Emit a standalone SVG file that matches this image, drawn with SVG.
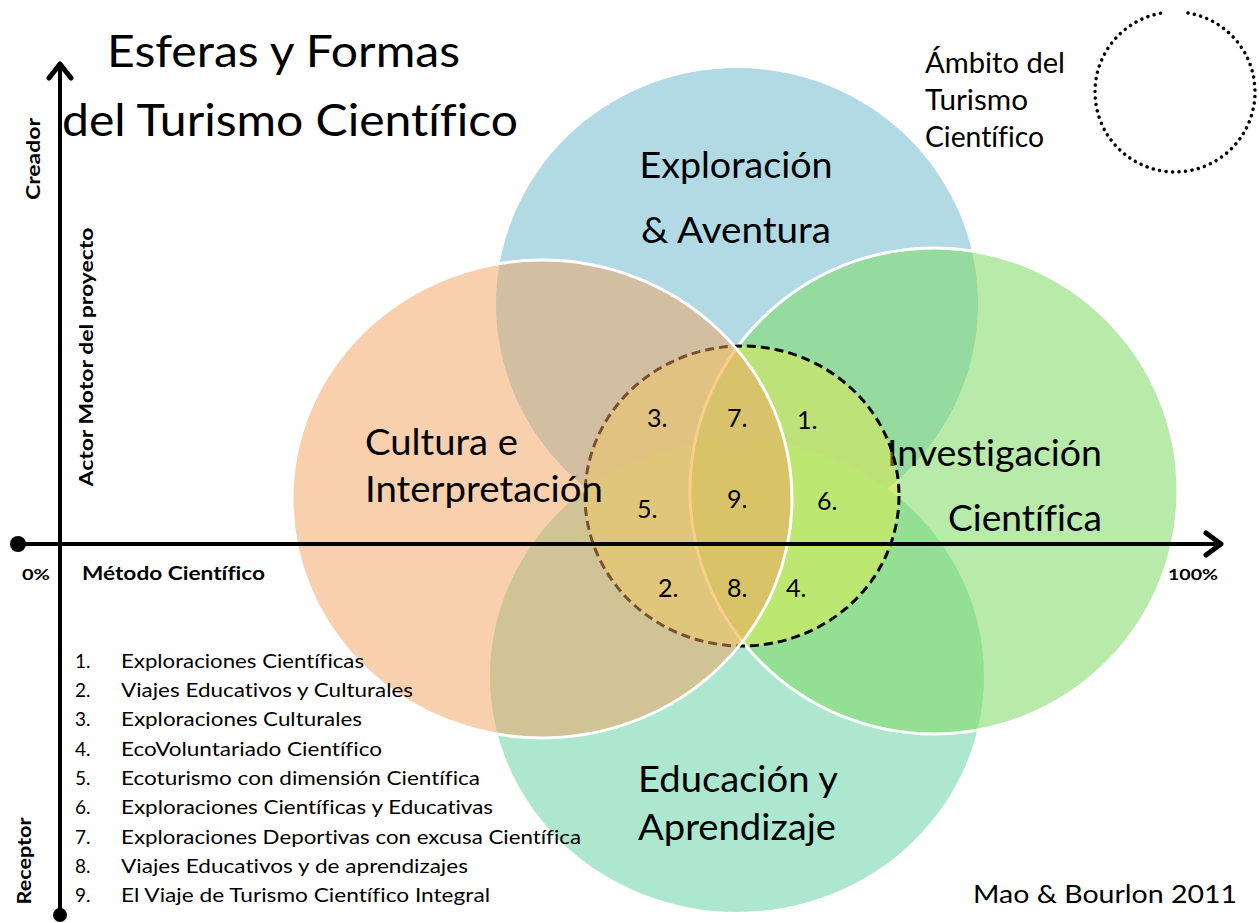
<svg xmlns="http://www.w3.org/2000/svg" width="1259" height="923" viewBox="0 0 1259 923">
<style>
text { font-family: Lato, "Open Sans", "Liberation Sans", sans-serif; fill: #000; font-variant-ligatures: none; }
.title { font-size: 44px; }
.lbl { font-size: 36px; }
.amb { font-size: 28px; }
.num { font-size: 25px; }
.leg { font-size: 19px; }
.b { font-weight: 700; }
.axis { stroke: #000; stroke-width: 4; fill: none; }
.head { stroke: #000; stroke-width: 5; fill: none; stroke-linecap: round; stroke-linejoin: round; }
.sph { stroke: #fff; stroke-width: 3; }
</style>
<rect width="1259" height="923" fill="#fff"/>

<g id="title">
  <text class="title" x="107" y="67" textLength="353" lengthAdjust="spacingAndGlyphs">Esferas y Formas</text>
  <text class="title" x="62" y="136" textLength="456" lengthAdjust="spacingAndGlyphs">del Turismo Científico</text>
</g>

<g id="legend-ambito">
  <text class="amb" x="925" y="73" textLength="140" lengthAdjust="spacingAndGlyphs">Ámbito del</text>
  <text class="amb" x="925" y="110" textLength="103" lengthAdjust="spacingAndGlyphs">Turismo</text>
  <text class="amb" x="925" y="147" textLength="119" lengthAdjust="spacingAndGlyphs">Científico</text>
  <path d="M 1188 13 A 80 80 0 1 1 1162 13" fill="none" stroke="#000" stroke-width="3.5" stroke-linecap="round" stroke-dasharray="0.1 6.4"/>
</g>

<g id="sphere-exploracion">
  <ellipse cx="737" cy="304" rx="241" ry="236" fill="#B1DAE5"/>
  <text class="lbl" x="736" y="178" text-anchor="middle" textLength="193" lengthAdjust="spacingAndGlyphs">Exploración</text>
  <text class="lbl" x="736" y="243" text-anchor="middle" textLength="190" lengthAdjust="spacingAndGlyphs">&amp; Aventura</text>
</g>

<g id="sphere-educacion">
  <ellipse cx="737" cy="676" rx="247" ry="236" fill="#ADE7CF"/>
  <text class="lbl" x="638" y="792" textLength="200" lengthAdjust="spacingAndGlyphs">Educación y</text>
  <text class="lbl" x="638" y="840" textLength="198" lengthAdjust="spacingAndGlyphs">Aprendizaje</text>
</g>

<g id="sphere-investigacion">
  <ellipse class="sph" cx="934" cy="491" rx="244" ry="243" fill="#7EDB64" fill-opacity="0.55"/>
  <text class="lbl" x="887" y="466" textLength="215" lengthAdjust="spacingAndGlyphs">Investigación</text>
  <text class="lbl" x="948" y="531" textLength="154" lengthAdjust="spacingAndGlyphs">Científica</text>
</g>

<g id="ambito-core">
  <ellipse cx="742" cy="496" rx="157" ry="150" fill="#FFF139" fill-opacity="0.38" stroke="#000" stroke-width="3" stroke-dasharray="9 5"/>
</g>

<g id="sphere-cultura">
  <ellipse class="sph" cx="542" cy="499" rx="250" ry="239" fill="#F3A15D" fill-opacity="0.5"/>
  <text class="lbl" x="365" y="455" textLength="153" lengthAdjust="spacingAndGlyphs">Cultura e</text>
  <text class="lbl" x="365" y="502" textLength="238" lengthAdjust="spacingAndGlyphs">Interpretación</text>
</g>

<g id="connectors">
  <line class="axis" x1="60" y1="64" x2="60" y2="915"/>
  <polyline class="head" points="49,78 60,64 71,78"/>
  <circle cx="60" cy="915" r="7" fill="#000"/>
  <line class="axis" x1="18" y1="544" x2="1220" y2="544"/>
  <polyline class="head" points="1206,533 1221,544 1206,555"/>
  <circle cx="18" cy="544" r="8" fill="#000"/>
</g>

<g id="axis-labels">
  <text class="b" font-size="18" transform="translate(40,159) rotate(-90)" text-anchor="middle" textLength="82" lengthAdjust="spacingAndGlyphs">Creador</text>
  <text class="b" font-size="18" transform="translate(93,357) rotate(-90)" text-anchor="middle" textLength="259" lengthAdjust="spacingAndGlyphs">Actor Motor del proyecto</text>
  <text class="b" font-size="18" transform="translate(31,861) rotate(-90)" text-anchor="middle" textLength="87" lengthAdjust="spacingAndGlyphs">Receptor</text>
  <text class="b" font-size="16" x="22" y="580" textLength="28" lengthAdjust="spacingAndGlyphs">0%</text>
  <text class="b" font-size="19" x="82" y="580" textLength="183" lengthAdjust="spacingAndGlyphs">Método Científico</text>
  <text class="b" font-size="16" x="1168" y="580" textLength="50" lengthAdjust="spacingAndGlyphs">100%</text>
</g>

<g id="regions">
  <text class="num" x="647" y="427">3.</text>
  <text class="num" x="727" y="427">7.</text>
  <text class="num" x="797" y="429">1.</text>
  <text class="num" x="637" y="518">5.</text>
  <text class="num" x="727" y="508">9.</text>
  <text class="num" x="817" y="510">6.</text>
  <text class="num" x="658" y="597">2.</text>
  <text class="num" x="727" y="597">8.</text>
  <text class="num" x="786" y="597">4.</text>
</g>

<g id="legend">
  <text class="leg" x="75" y="668">1.</text><text class="leg" x="121" y="668" textLength="243" lengthAdjust="spacingAndGlyphs">Exploraciones Científicas</text>
  <text class="leg" x="75" y="697">2.</text><text class="leg" x="121" y="697" textLength="292" lengthAdjust="spacingAndGlyphs">Viajes Educativos y Culturales</text>
  <text class="leg" x="75" y="726">3.</text><text class="leg" x="121" y="726" textLength="241" lengthAdjust="spacingAndGlyphs">Exploraciones Culturales</text>
  <text class="leg" x="75" y="756">4.</text><text class="leg" x="121" y="756" textLength="261" lengthAdjust="spacingAndGlyphs">EcoVoluntariado Científico</text>
  <text class="leg" x="75" y="785">5.</text><text class="leg" x="121" y="785" textLength="359" lengthAdjust="spacingAndGlyphs">Ecoturismo con dimensión Científica</text>
  <text class="leg" x="75" y="814">6.</text><text class="leg" x="121" y="814" textLength="372" lengthAdjust="spacingAndGlyphs">Exploraciones Científicas y Educativas</text>
  <text class="leg" x="75" y="844">7.</text><text class="leg" x="121" y="844" textLength="460" lengthAdjust="spacingAndGlyphs">Exploraciones Deportivas con excusa Científica</text>
  <text class="leg" x="75" y="873">8.</text><text class="leg" x="121" y="873" textLength="347" lengthAdjust="spacingAndGlyphs">Viajes Educativos y de aprendizajes</text>
  <text class="leg" x="75" y="902">9.</text><text class="leg" x="121" y="902" textLength="369" lengthAdjust="spacingAndGlyphs">El Viaje de Turismo Científico Integral</text>
</g>

<g id="credit">
  <text font-size="25" x="973" y="903" textLength="264" lengthAdjust="spacingAndGlyphs">Mao &amp; Bourlon 2011</text>
</g>
</svg>
